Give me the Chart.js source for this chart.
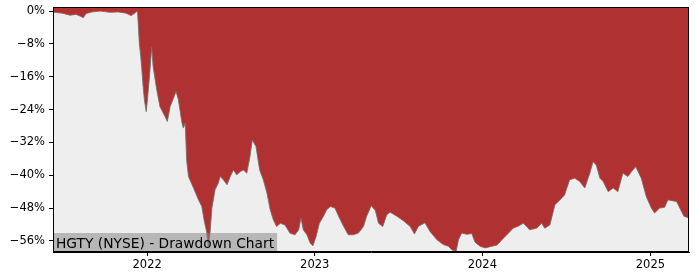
<!DOCTYPE html>
<html>
<head>
<meta charset="utf-8">
<script src="https://cdn.jsdelivr.net/npm/chart.js@4.4.1/dist/chart.umd.min.js"></script>
<style>
  html, body { margin: 0; padding: 0; background: #fff; }
  #wrap { width: 700px; height: 280px; position: relative; }
</style>
</head>
<body>
<div id="wrap"><canvas id="ddChart"></canvas></div>
<script>
// ==========================
// DATA
// ==========================
const dates = [
  "2021-06-10", "2021-06-13", "2021-06-30", "2021-07-17", "2021-07-30", "2021-08-08", "2021-08-15",
  "2021-08-21", "2021-09-03", "2021-09-21", "2021-10-12", "2021-10-30", "2021-11-16", "2021-11-27",
  "2021-12-04", "2021-12-11", "2021-12-15", "2021-12-18", "2021-12-20", "2021-12-23", "2021-12-26",
  "2021-12-30", "2022-01-01", "2022-01-06", "2022-01-11", "2022-01-14", "2022-01-22", "2022-01-29",
  "2022-02-09", "2022-02-14", "2022-02-20", "2022-02-26", "2022-03-05", "2022-03-10", "2022-03-18",
  "2022-03-21", "2022-03-25", "2022-03-28", "2022-04-01", "2022-04-12", "2022-04-23", "2022-04-30",
  "2022-05-05", "2022-05-11", "2022-05-14", "2022-05-18", "2022-05-22", "2022-05-29", "2022-06-05",
  "2022-06-09", "2022-06-16", "2022-06-24", "2022-07-01", "2022-07-08", "2022-07-15", "2022-07-23",
  "2022-07-30", "2022-08-06", "2022-08-13", "2022-08-18", "2022-08-26", "2022-09-03", "2022-09-11",
  "2022-09-19", "2022-09-26", "2022-10-03", "2022-10-10", "2022-10-18", "2022-10-28", "2022-11-08",
  "2022-11-19", "2022-11-27", "2022-12-02", "2022-12-07", "2022-12-15", "2022-12-22", "2022-12-28",
  "2023-01-04", "2023-01-11", "2023-01-20", "2023-01-27", "2023-02-04", "2023-02-14", "2023-02-22",
  "2023-03-05", "2023-03-15", "2023-03-26", "2023-04-06", "2023-04-17", "2023-04-24", "2023-05-04",
  "2023-05-13", "2023-05-20", "2023-05-29", "2023-06-07", "2023-06-14", "2023-06-29", "2023-07-13",
  "2023-07-28", "2023-08-06", "2023-08-15", "2023-08-29", "2023-09-09", "2023-09-24", "2023-10-08",
  "2023-10-19", "2023-10-27", "2023-11-05", "2023-11-10", "2023-11-17", "2023-11-28", "2023-12-09",
  "2023-12-16", "2023-12-27", "2024-01-07", "2024-01-18", "2024-02-02", "2024-02-12", "2024-02-26",
  "2024-03-08", "2024-03-19", "2024-03-30", "2024-04-06", "2024-04-13", "2024-04-28", "2024-05-09",
  "2024-05-16", "2024-05-27", "2024-06-07", "2024-06-18", "2024-06-28", "2024-07-09", "2024-07-20",
  "2024-07-31", "2024-08-11", "2024-08-22", "2024-08-29", "2024-09-05", "2024-09-13", "2024-09-20",
  "2024-10-01", "2024-10-12", "2024-10-22", "2024-11-02", "2024-11-13", "2024-11-21", "2024-11-30",
  "2024-12-12", "2024-12-23", "2025-01-03", "2025-01-10", "2025-01-21", "2025-02-01", "2025-02-08",
  "2025-02-27", "2025-03-06", "2025-03-15", "2025-03-26"
];

const drawdown = [
  -0.3, -0.3, -0.5, -1.0, -0.8, -1.2, -1.6,
  -0.6, -0.2, 0.0, -0.3, -0.2, -0.5, -1.1,
  -0.6, 0.0, -7.8, -11.0, -13.5, -18.0, -21.6,
  -24.5, -22.4, -16.0, -8.7, -13.5, -19.2, -23.3,
  -25.7, -26.9, -23.3, -21.6, -19.6, -21.6, -27.3,
  -28.5, -27.3, -36.3, -40.3, -43.1, -46.0, -47.6,
  -50.9, -54.0, -57.3, -54.0, -48.0, -43.5, -41.9,
  -40.3, -41.1, -42.3, -40.3, -38.7, -39.9, -39.1,
  -38.7, -39.5, -35.4, -31.4, -33.0, -38.7, -41.1,
  -44.4, -48.4, -50.9, -52.5, -51.7, -52.1, -54.1,
  -54.5, -53.3, -50.4, -53.3, -54.5, -56.5, -57.2,
  -54.9, -51.7, -50.0, -48.4, -47.6, -48.0, -50.0,
  -52.5, -54.5, -54.5, -54.1, -52.5, -50.0, -47.4,
  -48.6, -51.7, -52.5, -49.6, -49.0, -50.0, -51.1,
  -52.5, -54.3, -52.4, -51.6, -53.7, -55.7, -56.9,
  -57.3, -58.2, -58.5, -55.7, -54.1, -54.4, -54.2,
  -56.3, -57.3, -57.7, -57.4, -57.0, -55.8, -54.2,
  -52.9, -52.4, -51.7, -52.4, -53.3, -52.9, -51.7,
  -52.9, -52.1, -47.2, -46.0, -44.8, -41.1, -40.7,
  -41.5, -43.1, -39.5, -36.7, -37.5, -40.7, -41.5,
  -44.0, -43.1, -44.0, -39.5, -40.3, -39.1, -37.9,
  -40.7, -45.2, -48.0, -49.2, -48.0, -47.8, -46.0,
  -46.4, -48.0, -50.0, -50.4
];

const yTicks = [0, -8, -16, -24, -32, -40, -48, -56];
const xTickYears = [2022, 2023, 2024, 2025];
const xRange = ["2021-06-10", "2025-03-26"];
const yRange = [-58.7, 1.0];
const chartTitle = "HGTY (NYSE) - Drawdown Chart";

// ==========================
// HELPERS
// ==========================
const toTime = s => {
  const [y, m, d] = s.split("-").map(Number);
  return Date.UTC(y, m - 1, d);
};

const points = dates.map((d, i) => ({ x: toTime(d), y: drawdown[i] }));
const FONT = "'DejaVu Sans', sans-serif";

// ==========================
// PLUGINS
// ==========================
const plotBackground = {
  id: "plotBackground",
  beforeDraw(chart) {
    const { ctx, chartArea: a } = chart;
    ctx.save();
    ctx.fillStyle = "#eeeeee";
    ctx.fillRect(a.left, a.top, a.right - a.left, a.bottom - a.top);
    ctx.restore();
  }
};

const frameAndLabel = {
  id: "frameAndLabel",
  afterDraw(chart) {
    const { ctx, chartArea: a } = chart;
    ctx.save();
    // label box, bottom left
    ctx.font = "13.8px " + FONT;
    const w = ctx.measureText(chartTitle).width;
    ctx.fillStyle = "rgba(128,128,128,0.5)";
    ctx.fillRect(a.left, a.bottom - 19, w + 6, 19);
    ctx.fillStyle = "#000";
    ctx.textBaseline = "alphabetic";
    ctx.fillText(chartTitle, a.left + 3, a.bottom - 4);
    // spines
    ctx.strokeStyle = "#000";
    ctx.lineWidth = 1;
    ctx.strokeRect(Math.round(a.left) + 0.5, Math.round(a.top) + 0.5,
      Math.round(a.right - a.left) - 1, Math.round(a.bottom - a.top) - 1);
    ctx.restore();
  }
};

// ==========================
// CHART
// ==========================
new Chart(document.getElementById("ddChart"), {
  type: "line",
  data: {
    datasets: [{
      data: points,
      fill: "end",
      backgroundColor: "#b03131",
      borderColor: "rgba(110,110,110,0.85)",
      borderWidth: 1,
      pointRadius: 0,
      tension: 0
    }]
  },
  options: {
    responsive: true,
    maintainAspectRatio: false,
    animation: false,
    layout: { padding: { top: 7, right: 11, left: 0, bottom: 0 } },
    plugins: {
      legend: { display: false },
      tooltip: { enabled: false }
    },
    scales: {
      x: {
        type: "linear",
        min: toTime(xRange[0]),
        max: toTime(xRange[1]),
        afterBuildTicks: s => {
          s.ticks = xTickYears.map(y => ({ value: Date.UTC(y, 0, 1) }));
        },
        afterFit: s => {
          s.height = 28;
          s.paddingLeft = 0;
          s.paddingRight = 0;
        },
        grid: { drawOnChartArea: false, drawTicks: true, tickLength: 4, color: "#000" },
        border: { display: true, color: "#000" },
        ticks: {
          color: "#000",
          font: { family: FONT, size: 11.5 },
          padding: 2,
          maxRotation: 0,
          callback: v => String(new Date(v).getUTCFullYear())
        }
      },
      y: {
        min: yRange[0],
        max: yRange[1],
        afterBuildTicks: s => {
          s.ticks = yTicks.map(v => ({ value: v }));
        },
        afterFit: s => {
          s.width = 53;
          s.paddingTop = 0;
          s.paddingBottom = 0;
        },
        grid: { drawOnChartArea: false, drawTicks: true, tickLength: 4, color: "#000" },
        border: { display: true, color: "#000" },
        ticks: {
          color: "#000",
          font: { family: FONT, size: 11.5 },
          padding: 4,
          callback: v => (v < 0 ? "\u2212" + Math.abs(v) : v) + "%"
        }
      }
    }
  },
  plugins: [plotBackground, frameAndLabel]
});
</script>
</body>
</html>
